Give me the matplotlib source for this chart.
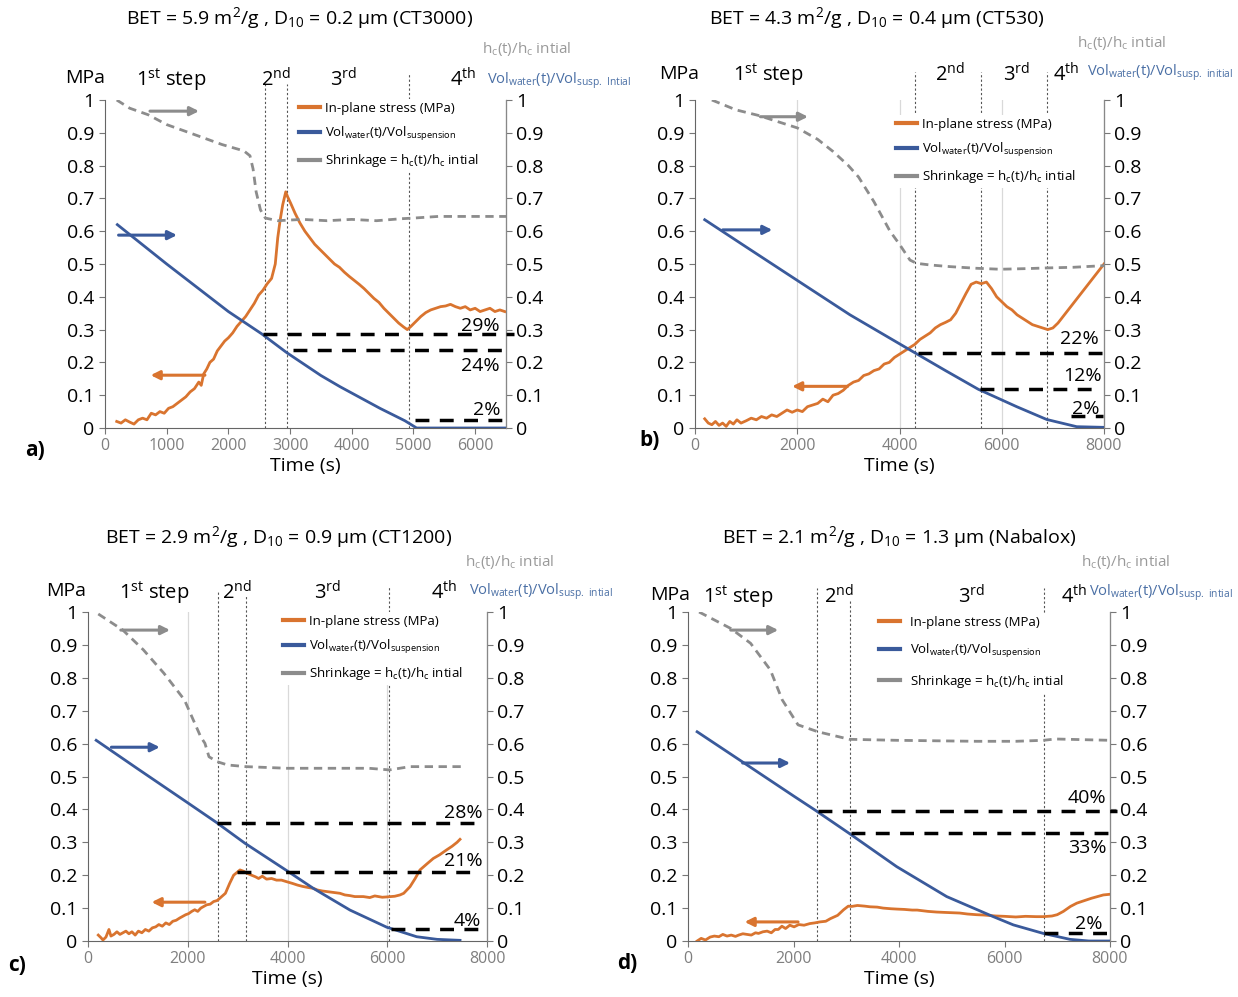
import matplotlib.pyplot as plt
from matplotlib.lines import Line2D

FONT = 'Open Sans'
plt.rcParams['font.family'] = [FONT, 'DejaVu Sans']
plt.rcParams['mathtext.fontset'] = 'custom'
plt.rcParams['mathtext.rm'] = FONT
plt.rcParams['mathtext.it'] = FONT + ':italic'
plt.rcParams['mathtext.bf'] = FONT + ':bold'

ORANGE = '#D9742F'
BLUE = '#3A5A9B'
GRAY = '#8C8C8C'

W, H = 1238, 997

# ---- panel a (CT3000) ----
a_st_t = [190, 260, 330, 400, 470, 540, 610, 680, 750, 820, 890, 960, 1030, 1100, 1170, 1240, 1310,
          1380, 1450, 1520, 1560, 1600, 1650, 1700, 1760, 1820, 1880, 1940, 2000, 2070, 2140, 2210,
          2280, 2350, 2420, 2490, 2560, 2630, 2700, 2760, 2800, 2840, 2880, 2930, 2960, 3010, 3080,
          3160, 3240, 3320, 3400, 3480, 3560, 3640, 3720, 3800, 3880, 3960, 4040, 4120, 4200, 4280,
          4360, 4440, 4520, 4600, 4680, 4760, 4840, 4900, 4960, 5040, 5120, 5200, 5280, 5360, 5440,
          5520, 5600, 5680, 5760, 5840, 5920, 6000, 6080, 6160, 6240, 6320, 6400, 6480]
a_st = [0.02, 0.015, 0.025, 0.018, 0.012, 0.025, 0.03, 0.025, 0.045, 0.04, 0.05, 0.045, 0.06, 0.065,
        0.075, 0.085, 0.095, 0.11, 0.12, 0.14, 0.13, 0.165, 0.18, 0.2, 0.21, 0.235, 0.25, 0.265, 0.275,
        0.29, 0.31, 0.325, 0.34, 0.36, 0.38, 0.405, 0.42, 0.44, 0.456, 0.5, 0.58, 0.635, 0.68, 0.72,
        0.705, 0.685, 0.655, 0.625, 0.6, 0.58, 0.56, 0.545, 0.53, 0.515, 0.5, 0.49, 0.475, 0.462, 0.45,
        0.438, 0.425, 0.41, 0.395, 0.383, 0.365, 0.35, 0.335, 0.32, 0.308, 0.3, 0.31, 0.325, 0.34,
        0.352, 0.36, 0.365, 0.37, 0.372, 0.377, 0.37, 0.365, 0.37, 0.36, 0.365, 0.355, 0.36, 0.365,
        0.355, 0.36, 0.355]
a_vol_t = [200, 1000, 2000, 2540, 2944, 3500, 3809, 4457, 4862, 5051, 6500]
a_vol = [0.62, 0.50, 0.355, 0.287, 0.23, 0.16, 0.126, 0.06, 0.022, 0.0, 0.0]
a_sh_t = [190, 400, 700, 1000, 1400, 1900, 2250, 2350, 2400, 2450, 2520, 2600, 2800, 3200, 3600,
          4000, 4400, 4800, 5000, 5400, 6000, 6500]
a_sh = [1.0, 0.975, 0.955, 0.925, 0.898, 0.864, 0.845, 0.83, 0.79, 0.72, 0.665, 0.64, 0.632, 0.636,
        0.632, 0.636, 0.632, 0.638, 0.64, 0.645, 0.645, 0.645]
a_steps = [2590, 2950, 4920]
a_step_top = [1.05, 1.05, 1.08]
a_levels = [(0.288, 2560, 6630), (0.238, 3050, 6550), (0.023, 5030, 6550)]
a_pct = [('29%', 6090, 0.31), ('24%', 6090, 0.19), ('2%', 6190, 0.056)]

# ---- panel b (CT530) ----
b_st_t = [190, 260, 330, 400, 470, 540, 610, 680, 750, 820, 900, 1000, 1100, 1200, 1300, 1400, 1500,
          1600, 1700, 1800, 1900, 2000, 2100, 2200, 2300, 2400, 2500, 2600, 2700, 2800, 2900, 3000,
          3100, 3200, 3300, 3400, 3500, 3600, 3700, 3800, 3900, 4000, 4100, 4200, 4300, 4400, 4500,
          4600, 4700, 4800, 4900, 5000, 5100, 5200, 5300, 5400, 5500, 5600, 5700, 5800, 5900, 6000,
          6100, 6200, 6300, 6400, 6500, 6600, 6700, 6800, 6900, 7000, 7100, 7200, 7300, 7400, 7500,
          7600, 7700, 7800, 7900, 8000]
b_st = [0.028, 0.015, 0.01, 0.02, 0.008, 0.015, 0.005, 0.02, 0.012, 0.025, 0.015, 0.022, 0.03, 0.025,
        0.035, 0.03, 0.04, 0.035, 0.045, 0.055, 0.048, 0.055, 0.05, 0.065, 0.07, 0.075, 0.088, 0.08,
        0.1, 0.105, 0.115, 0.13, 0.14, 0.145, 0.16, 0.165, 0.175, 0.18, 0.195, 0.2, 0.215, 0.225,
        0.235, 0.245, 0.255, 0.27, 0.28, 0.29, 0.305, 0.315, 0.322, 0.33, 0.35, 0.38, 0.41, 0.438,
        0.445, 0.44, 0.445, 0.425, 0.4, 0.385, 0.37, 0.36, 0.345, 0.335, 0.325, 0.315, 0.31, 0.305,
        0.3, 0.305, 0.32, 0.34, 0.36, 0.38, 0.4, 0.42, 0.44, 0.46, 0.48, 0.5]
b_vol_t = [190, 1000, 2000, 3032, 4205, 4900, 5542, 6292, 6879, 7466, 8000]
b_vol = [0.635, 0.552, 0.45, 0.345, 0.238, 0.175, 0.118, 0.065, 0.026, 0.004, 0.002]
b_sh_t = [330, 800, 1240, 1700, 2000, 2400, 2700, 3000, 3200, 3500, 3814, 4000, 4205, 4335, 4600,
          4987, 5500, 5966, 6500, 6879, 7400, 8000]
b_sh = [1.0, 0.97, 0.953, 0.93, 0.915, 0.88, 0.843, 0.8, 0.765, 0.69, 0.6, 0.56, 0.512, 0.502, 0.497,
        0.492, 0.487, 0.484, 0.486, 0.488, 0.49, 0.495]
b_steps = [4300, 5600, 6880]
b_step_top = [1.085, 1.085, 1.085]
b_levels = [(0.229, 4357, 7984), (0.12, 5581, 7950), (0.036, 7364, 7984)]
b_pct = [('22%', 7520, 0.27), ('12%', 7580, 0.159), ('2%', 7640, 0.058)]

# ---- panel c (CT1200) ----
c_st_t = [206, 260, 300, 360, 420, 460, 520, 580, 640, 700, 760, 820, 880, 946, 1010, 1080, 1150,
          1220, 1290, 1357, 1420, 1490, 1560, 1630, 1700, 1768, 1840, 1900, 1960, 2015, 2080, 2140,
          2200, 2262, 2320, 2380, 2450, 2520, 2590, 2680, 2755, 2840, 2920, 3048, 3120, 3200, 3280,
          3360, 3420, 3495, 3580, 3680, 3780, 3880, 3988, 4100, 4200, 4300, 4400, 4518, 4600, 4700,
          4800, 5052, 5150, 5250, 5350, 5520, 5650, 5750, 5900, 5989, 6150, 6256, 6330, 6456, 6560,
          6656, 6800, 6924, 7050, 7191, 7300, 7400, 7459]
c_st = [0.018, 0.01, 0.003, 0.012, 0.035, 0.015, 0.02, 0.028, 0.02, 0.025, 0.03, 0.022, 0.028, 0.018,
        0.03, 0.025, 0.035, 0.03, 0.04, 0.043, 0.05, 0.045, 0.055, 0.05, 0.06, 0.063, 0.07, 0.075, 0.08,
        0.083, 0.09, 0.095, 0.09, 0.1, 0.105, 0.11, 0.112, 0.12, 0.123, 0.135, 0.145, 0.175, 0.2,
        0.216, 0.212, 0.205, 0.2, 0.195, 0.19, 0.197, 0.188, 0.19, 0.185, 0.185, 0.18, 0.175, 0.17,
        0.166, 0.163, 0.16, 0.155, 0.152, 0.15, 0.145, 0.14, 0.138, 0.135, 0.135, 0.132, 0.137, 0.133,
        0.134, 0.136, 0.14, 0.145, 0.165, 0.19, 0.216, 0.235, 0.251, 0.262, 0.277, 0.288, 0.3, 0.309]
c_vol_t = [164, 1000, 2000, 2569, 3148, 3984, 4518, 5253, 5989, 6590, 7000, 7459]
c_vol = [0.61, 0.523, 0.42, 0.361, 0.297, 0.214, 0.16, 0.094, 0.042, 0.013, 0.005, 0.002]
c_sh_t = [206, 699, 1110, 1521, 1933, 2262, 2344, 2426, 2590, 2800, 3166, 3988, 5000, 5633, 6044,
          6455, 7000, 7525]
c_sh = [0.994, 0.945, 0.885, 0.814, 0.733, 0.62, 0.601, 0.56, 0.545, 0.535, 0.53, 0.525, 0.525,
        0.525, 0.52, 0.53, 0.53, 0.53]
c_steps = [2600, 3166, 6044]
c_step_top = [1.067, 1.05, 1.077]
c_levels = [(0.359, 2590, 7853), (0.211, 2985, 7812), (0.035, 6085, 7900)]
c_pct = [('28%', 7525, 0.39), ('21%', 7525, 0.242), ('4%', 7607, 0.06)]

# ---- panel d (Nabalox) ----
d_st_t = [173, 250, 330, 420, 500, 585, 660, 740, 820, 900, 961, 1040, 1120, 1200, 1280, 1336, 1420,
          1500, 1580, 1650, 1711, 1780, 1850, 1930, 2011, 2100, 2200, 2311, 2400, 2500, 2612, 2700,
          2837, 2950, 3039, 3100, 3212, 3350, 3450, 3587, 3700, 3850, 3962, 4100, 4250, 4344, 4550,
          4713, 4850, 5000, 5150, 5300, 5463, 5600, 5839, 6000, 6214, 6400, 6600, 6736, 6900, 7000,
          7116, 7250, 7370, 7500, 7650, 7874, 8000]
d_st = [0.0, 0.008, 0.003, 0.012, 0.015, 0.013, 0.02, 0.015, 0.018, 0.014, 0.018, 0.022, 0.02, 0.018,
        0.025, 0.023, 0.028, 0.03, 0.025, 0.035, 0.035, 0.045, 0.038, 0.048, 0.043, 0.05, 0.048, 0.053,
        0.055, 0.058, 0.06, 0.068, 0.078, 0.095, 0.106, 0.105, 0.108, 0.106, 0.104, 0.103, 0.1, 0.098,
        0.097, 0.096, 0.094, 0.094, 0.09, 0.088, 0.087, 0.086, 0.085, 0.082, 0.08, 0.079, 0.076, 0.075,
        0.073, 0.075, 0.074, 0.074, 0.076, 0.08, 0.09, 0.105, 0.115, 0.122, 0.13, 0.14, 0.142]
d_vol_t = [173, 1036, 2000, 2408, 3039, 3956, 4904, 5788, 6167, 6736, 7242, 7600, 8000]
d_vol = [0.636, 0.544, 0.441, 0.398, 0.329, 0.226, 0.135, 0.074, 0.049, 0.023, 0.005, 0.0, 0.0]
d_sh_t = [210, 810, 1186, 1561, 1786, 2086, 2462, 3062, 3962, 5463, 6214, 6739, 6964, 8000]
d_sh = [1.0, 0.95, 0.905, 0.824, 0.733, 0.657, 0.636, 0.613, 0.61, 0.607, 0.607, 0.61, 0.614, 0.61]
d_steps = [2440, 3062, 6754]
d_step_top = [1.073, 1.036, 1.073]
d_levels = [(0.395, 2462, 8127), (0.327, 3099, 8000), (0.025, 6754, 8000)]
d_pct = [('40%', 7565, 0.435), ('33%', 7565, 0.282), ('2%', 7602, 0.053)]

LEG_LABELS = ['In-plane stress (MPa)',
              r'Vol$_{\mathregular{water}}$(t)/Vol$_{\mathregular{suspension}}$',
              r'Shrinkage = h$_{\mathregular{c}}$(t)/h$_{\mathregular{c}}$ intial']

fig = plt.figure(figsize=(W / 100, H / 100), dpi=100)


def ftext(x, y, s, size, **kw):
    kw.setdefault('ha', 'center')
    kw.setdefault('va', 'center')
    fig.text(x / W, 1 - y / H, s, fontsize=size, **kw)


def panel(box, xmax, xticks, st_t, st, vol_t, vol, sh_t, sh, steps, step_top, levels, pct,
          arrows, gridx, leg_xy, leg_space=0.75, leg_pad=0.4):
    l, t, r, b = box
    ax = fig.add_axes([l / W, 1 - b / H, (r - l) / W, (b - t) / H])
    ax2 = ax.twinx()
    for a in (ax, ax2):
        a.set_xlim(0, xmax)
        a.set_ylim(0, 1)
        a.set_yticks([i / 10 for i in range(11)])
        a.set_yticklabels(['0'] + ['%.1f' % (i / 10) for i in range(1, 10)] + ['1'])
        a.tick_params(axis='y', labelsize=14, length=4, color='#777777')
        a.spines['top'].set_visible(False)
    ax.spines['left'].set_color('#666666')
    ax.spines['bottom'].set_color('#666666')
    ax2.spines['right'].set_color('#888888')
    ax2.spines['left'].set_visible(False)
    ax2.spines['bottom'].set_visible(False)
    ax.set_xticks(xticks)
    ax.set_xticklabels([str(x) for x in xticks])
    ax.tick_params(axis='x', labelsize=11.5, labelcolor='#7f7f7f', length=4, color='#777777')
    ax.set_xlabel('Time (s)', fontsize=14, labelpad=2)

    for gx in gridx:
        ax.axvline(gx, color='#d9d9d9', lw=0.9, zorder=0)
    for x, top in zip(steps, step_top):
        ax.plot([x, x], [0, top], color='#555555', lw=0.8, ls=(0, (2, 2)), clip_on=False, zorder=1)

    ax.plot(st_t, st, color=ORANGE, lw=2, zorder=3)
    ax2.plot(vol_t, vol, color=BLUE, lw=2, zorder=3)
    ax2.plot(sh_t, sh, color=GRAY, lw=2, ls=(0, (3, 2)), zorder=3)

    for y, x0, x1 in levels:
        ax2.plot([x0, x1], [y, y], color='black', lw=2.5, ls=(0, (4, 3)), clip_on=False, zorder=4)
    for s, x, y in pct:
        ax2.text(x, y, s, fontsize=14, ha='center', va='center', zorder=5)

    for x0, x1, y, c in arrows:
        ax2.annotate('', xy=(x1, y), xytext=(x0, y),
                     arrowprops=dict(arrowstyle='-|>', color=c, lw=2.2, mutation_scale=13,
                                     shrinkA=0, shrinkB=0), zorder=6)

    handles = [Line2D([], [], color=c, lw=3) for c in (ORANGE, BLUE, GRAY)]
    leg = ax2.legend(handles, LEG_LABELS, loc='upper left', fontsize=9.5,
                     bbox_to_anchor=(leg_xy[0] / W, 1 - leg_xy[1] / H),
                     bbox_transform=fig.transFigure, borderaxespad=0, borderpad=0.2,
                     handlelength=1.6, handletextpad=leg_pad, labelspacing=leg_space,
                     frameon=True, facecolor='white', edgecolor='none', framealpha=1)
    leg.set_zorder(10)
    return ax


panel((105, 100, 506, 428), 6500, list(range(0, 6001, 1000)), a_st_t, a_st, a_vol_t, a_vol,
      a_sh_t, a_sh, a_steps, a_step_top, a_levels, a_pct,
      [(729, 1524, 0.966, GRAY), (220, 1167, 0.588, BLUE), (1620, 740, 0.161, ORANGE)],
      [], (296, 99))
panel((695, 100, 1104, 428), 8000, list(range(0, 8001, 2000)), b_st_t, b_st, b_vol_t, b_vol,
      b_sh_t, b_sh, b_steps, b_step_top, b_levels, b_pct,
      [(1280, 2210, 0.949, GRAY), (543, 1512, 0.604, BLUE), (2985, 1900, 0.127, ORANGE)],
      [2000, 4000, 6000], (893, 115))
panel((88, 612, 487, 941), 8000, list(range(0, 8001, 2000)), c_st_t, c_st, c_vol_t, c_vol,
      c_sh_t, c_sh, c_steps, c_step_top, c_levels, c_pct,
      [(658, 1645, 0.945, GRAY), (469, 1439, 0.589, BLUE), (2344, 1275, 0.118, ORANGE)],
      [2000, 4000, 6000], (280, 612))
panel((688, 612, 1110, 941), 8000, list(range(0, 8001, 2000)), d_st_t, d_st, d_vol_t, d_vol,
      d_sh_t, d_sh, d_steps, d_step_top, d_levels, d_pct,
      [(810, 1711, 0.945, GRAY), (1036, 1936, 0.541, BLUE), (2086, 1073, 0.058, ORANGE)],
      [], (876, 613), leg_space=1.0, leg_pad=0.8)

# titles
ftext(300, 18, r'BET = 5.9 m$^{\mathregular{2}}$/g , D$_{\mathregular{10}}$ = 0.2 µm (CT3000)', 14)
ftext(877, 18, r'BET = 4.3 m$^{\mathregular{2}}$/g , D$_{\mathregular{10}}$ = 0.4 µm (CT530)', 14)
ftext(279, 537, r'BET = 2.9 m$^{\mathregular{2}}$/g , D$_{\mathregular{10}}$ = 0.9 µm (CT1200)', 14)
ftext(899, 537, r'BET = 2.1 m$^{\mathregular{2}}$/g , D$_{\mathregular{10}}$ = 1.3 µm (Nabalox)', 14)

# step labels and axis units
step_lbl = [r'1$^{\mathregular{st}}$ step', r'2$^{\mathregular{nd}}$', r'3$^{\mathregular{rd}}$',
            r'4$^{\mathregular{th}}$']
step_pos = [
    [(171, 80), (276, 80), (343, 80), (463, 80)],
    [(768, 75), (950, 75), (1016, 75), (1066, 75)],
    [(154, 593), (237, 593), (327, 593), (444, 593)],
    [(738, 597), (839, 597), (971, 597), (1074, 597)],
]
mpa_pos = [(85, 78), (679, 74), (66, 591), (670, 595)]
hc_pos = [(527, 49), (1122, 43), (510, 562), (1126, 562)]
vol_pos = [(559, 81), (1160, 73), (541, 592), (1161, 593)]
vol_lbl = [r'Vol$_{\mathregular{water}}$(t)/Vol$_{\mathregular{susp.\ Intial}}$',
           r'Vol$_{\mathregular{water}}$(t)/Vol$_{\mathregular{susp.\ initial}}$',
           r'Vol$_{\mathregular{water}}$(t)/Vol$_{\mathregular{susp.\ intial}}$',
           r'Vol$_{\mathregular{water}}$(t)/Vol$_{\mathregular{susp.\ intial}}$']
for i in range(4):
    for s, (x, y) in zip(step_lbl, step_pos[i]):
        ftext(x, y, s, 14.5)
    ftext(mpa_pos[i][0], mpa_pos[i][1], 'MPa', 14)
    ftext(hc_pos[i][0], hc_pos[i][1], r'h$_{\mathregular{c}}$(t)/h$_{\mathregular{c}}$ intial', 11,
          color='#9a9a9a')
    ftext(vol_pos[i][0], vol_pos[i][1], vol_lbl[i], 10.5, color='#4a6fa5')

for s, (x, y) in zip(['a)', 'b)', 'c)', 'd)'], [(35, 450), (650, 440), (17, 965), (627, 963)]):
    ftext(x, y, s, 15, fontweight='bold')

fig.savefig('out.png', dpi=100)
